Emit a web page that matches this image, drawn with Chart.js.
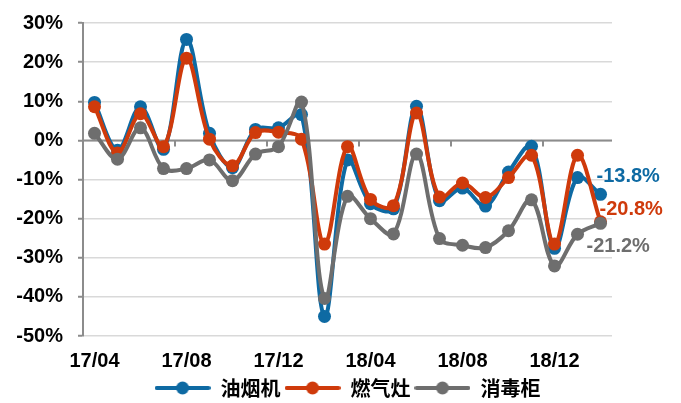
<!DOCTYPE html>
<html>
<head>
<meta charset="utf-8">
<script src="https://cdn.jsdelivr.net/npm/chart.js@4.4.1/dist/chart.umd.min.js"></script>
<style>
  html, body { margin: 0; padding: 0; background: #fff; }
  #wrap { width: 681px; height: 403px; }
</style>
</head>
<body>
<div id="wrap"><canvas id="chart"></canvas></div>
<script>
// months 17/04 .. 19/02
const months = [
    '17/04', '17/05', '17/06', '17/07', '17/08', '17/09', '17/10', '17/11', '17/12',
    '18/01', '18/02', '18/03', '18/04', '18/05', '18/06', '18/07', '18/08', '18/09',
    '18/10', '18/11', '18/12', '19/01', '19/02'
];
const hoodValues = [9.7, -2.5, 8.6, -2.3, 25.8, 1.8, -7.0, 2.8, 3.2, 6.6, -45.0, -5.0,
    -16.2, -17.5, 8.7, -15.4, -12.2, -16.8, -8.1, -1.5, -27.6, -9.5, -13.8];
const stoveValues = [8.6, -3.2, 6.8, -1.6, 21.0, 0.3, -6.5, 2.0, 2.1, 0.3, -26.5, -1.6,
    -15.1, -16.7, 7.0, -14.5, -10.9, -14.6, -9.5, -3.8, -26.5, -3.8, -20.8];
const cabinetValues = [1.8, -4.8, 3.2, -7.2, -7.2, -5.0, -10.3, -3.5, -1.6, 9.8, -40.4, -14.3,
    -20.0, -23.9, -3.5, -25.1, -26.8, -27.4, -23.1, -15.2, -32.1, -24.0, -21.2];
const yTicks = [30, 20, 10, 0, -10, -20, -30, -40, -50];

const BLUE = '#0e6aa3';
const RED = '#cf3a0b';
const GRAY = '#6e6e6e';

function legendMarker(color) {
    const c = document.createElement('canvas');
    c.width = 56;
    c.height = 14;
    const g = c.getContext('2d');
    g.strokeStyle = color;
    g.lineWidth = 4;
    g.lineCap = 'round';
    g.beginPath();
    g.moveTo(2, 7);
    g.lineTo(54, 7);
    g.stroke();
    g.fillStyle = color;
    g.beginPath();
    g.arc(28, 7, 6.5, 0, Math.PI * 2);
    g.fill();
    return c;
}

// zero line with tick marks every 4 months
const zeroLine = {
    id: 'zeroLine',
    beforeDatasetsDraw(chart) {
        const {ctx, chartArea, scales: {x, y}} = chart;
        const y0 = y.getPixelForValue(0);
        ctx.save();
        ctx.strokeStyle = '#8c8c8c';
        ctx.lineWidth = 2;
        ctx.beginPath();
        ctx.moveTo(chartArea.left, y0);
        ctx.lineTo(chartArea.right, y0);
        for (let i = 4; i < months.length; i += 4) {
            const bx = (x.getPixelForValue(i - 1) + x.getPixelForValue(i)) / 2;
            ctx.moveTo(bx, y0);
            ctx.lineTo(bx, y0 + 6);
        }
        ctx.stroke();
        ctx.restore();
    }
};

// labels of the last values
const lastLabels = {
    id: 'lastLabels',
    afterDatasetsDraw(chart) {
        const {ctx} = chart;
        const offsets = [[-4, -18], [-1, -12], [-14, 23]];
        ctx.save();
        ctx.font = 'bold 20px "Liberation Sans", Arial, sans-serif';
        ctx.textAlign = 'left';
        ctx.textBaseline = 'middle';
        chart.data.datasets.forEach((ds, i) => {
            const meta = chart.getDatasetMeta(i);
            const pt = meta.data[meta.data.length - 1];
            const v = ds.data[ds.data.length - 1];
            ctx.fillStyle = ds.borderColor;
            ctx.fillText(v.toFixed(1) + '%', pt.x + offsets[i][0], pt.y + offsets[i][1]);
        });
        ctx.restore();
    }
};

const ctx = document.getElementById('chart').getContext('2d');

new Chart(ctx, {
    type: 'line',
    data: {
        labels: months,
        datasets: [{
            label: '油烟机',
            data: hoodValues,
            borderColor: BLUE,
            backgroundColor: BLUE,
            order: 3
        }, {
            label: '燃气灶',
            data: stoveValues,
            borderColor: RED,
            backgroundColor: RED,
            order: 2
        }, {
            label: '消毒柜',
            data: cabinetValues,
            borderColor: GRAY,
            backgroundColor: GRAY,
            order: 1
        }]
    },
    options: {
        responsive: true,
        maintainAspectRatio: false,
        animation: false,
        layout: {
            padding: { left: 0, right: 69, top: 20, bottom: -5 }
        },
        elements: {
            line: { borderWidth: 4, tension: 0.35 },
            point: { radius: 6.5, borderWidth: 0, hoverRadius: 6.5 }
        },
        scales: {
            x: {
                offset: true,
                grid: { display: false, drawTicks: false },
                border: { display: false },
                ticks: {
                    autoSkip: false,
                    maxRotation: 0,
                    minRotation: 0,
                    padding: 13,
                    color: '#000',
                    font: { family: '"Liberation Sans", Arial, sans-serif', size: 20, weight: 'bold' },
                    callback: function (value, index) {
                        return index % 4 === 0 ? months[index] : '';
                    }
                },
                afterFit: function (scale) { scale.height = 38; }
            },
            y: {
                min: -50,
                max: 30,
                afterBuildTicks: function (scale) {
                    scale.ticks = yTicks.map(v => ({ value: v }));
                },
                afterFit: function (scale) { scale.width = 83; },
                grid: {
                    color: '#d9d9d9',
                    lineWidth: 1.5,
                    tickLength: 5,
                    tickColor: '#8c8c8c',
                    tickWidth: 2
                },
                border: { color: '#8c8c8c', width: 2 },
                ticks: {
                    padding: 15,
                    color: '#000',
                    font: { family: '"Liberation Sans", Arial, sans-serif', size: 20, weight: 'bold', lineHeight: 0.8 },
                    callback: v => v + '%'
                }
            }
        },
        plugins: {
            tooltip: { enabled: false },
            legend: {
                position: 'bottom',
                fullSize: false,
                labels: {
                    usePointStyle: true,
                    pointStyleWidth: 56,
                    boxHeight: 14,
                    padding: 4,
                    color: '#000',
                    font: { family: '"Noto Sans CJK SC", sans-serif', size: 20, weight: 'bold' },
                    sort: (a, b) => a.datasetIndex - b.datasetIndex,
                    generateLabels: function (chart) {
                        const items = Chart.defaults.plugins.legend.labels.generateLabels(chart);
                        items.forEach(it => {
                            it.pointStyle = legendMarker(chart.data.datasets[it.datasetIndex].borderColor);
                        });
                        return items;
                    }
                }
            }
        }
    },
    plugins: [zeroLine, lastLabels]
});
</script>
</body>
</html>
